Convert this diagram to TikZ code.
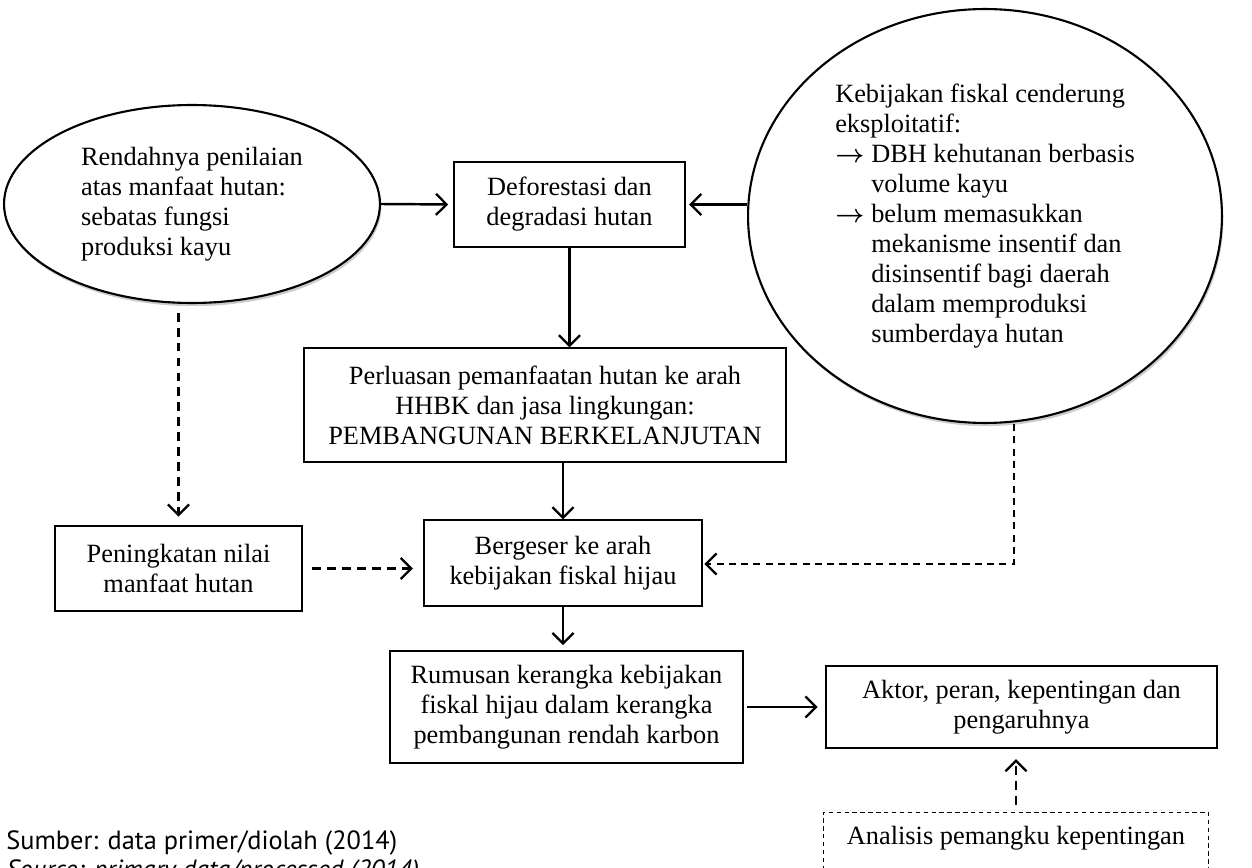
\documentclass[tikz,border=0pt]{standalone}
\usepackage{amsmath}
\usepackage{fontspec}
\setmainfont{Liberation Serif}
\newfontfamily\srcfont{PT Sans}
\usetikzlibrary{shapes.geometric,shadows,arrows.meta}

\begin{document}
\begin{tikzpicture}[x=0.02cm, y=-0.02cm,
        font=\fontsize{15}{17.1}\selectfont,
        box/.style={draw, line width=0.7pt, align=center, inner sep=0pt},
        blob/.style={draw, ellipse, line width=1.2pt, align=left, inner sep=0pt, fill=white,
            drop shadow={shadow xshift=0.8pt, shadow yshift=-1.8pt, fill=black!40}},
        arr/.style={-{Straight Barb[length=6pt, width=12pt, line width=1.3pt]}, line width=1.4pt},
        darr/.style={arr, dash pattern=on 5pt off 3.5pt},
        tarr/.style={arr, line width=1.1pt, dash pattern=on 4pt off 3pt}]
        \useasboundingbox (0,0) rectangle (1252,868);
        \clip (0,0) rectangle (1252,868);

        % top row
        \node[blob, minimum width=7.52cm, minimum height=3.96cm] (Rnd) at (192,204)
            {Rendahnya penilaian\\atas manfaat hutan:\\sebatas fungsi\\produksi kayu};
        \node[box, minimum width=4.62cm, minimum height=1.7cm] (Dfr) at (569.5,204.5)
            {Deforestasi dan\\degradasi hutan};
        \node[blob, minimum width=9.48cm, minimum height=8.28cm] (Kbj) at (985,216)
            {Kebijakan fiskal cenderung\\
             eksploitatif:\\
             \makebox[0.72cm][l]{$\boldsymbol{\rightarrow}$}DBH kehutanan berbasis\\
             \hspace*{0.72cm}volume kayu\\
             \makebox[0.72cm][l]{$\boldsymbol{\rightarrow}$}belum memasukkan\\
             \hspace*{0.72cm}mekanisme insentif dan\\
             \hspace*{0.72cm}disinsentif bagi daerah\\
             \hspace*{0.72cm}dalam memproduksi\\
             \hspace*{0.72cm}sumberdaya hutan};

        % middle
        \node[box, minimum width=9.64cm, minimum height=2.28cm] (Prl) at (545,405)
            {Perluasan pemanfaatan hutan ke arah\\HHBK dan jasa lingkungan:\\PEMBANGUNAN BERKELANJUTAN};
        \node[box, minimum width=5.56cm, minimum height=1.72cm] (Bgs) at (563,563)
            {Bergeser ke arah\\kebijakan fiskal hijau};
        \node[box, minimum width=4.94cm, minimum height=1.7cm] (Pnk) at (178.5,568.5)
            {Peningkatan nilai\\manfaat hutan};

        % bottom
        \node[box, minimum width=7.06cm, minimum height=2.24cm] (Rms) at (566.5,707)
            {Rumusan kerangka kebijakan\\fiskal hijau dalam kerangka\\pembangunan rendah karbon};
        \node[box, minimum width=7.82cm, minimum height=1.64cm] (Akt) at (1021.5,707)
            {Aktor, peran, kepentingan dan\\pengaruhnya};
        \node[box, line width=0.6pt, dash pattern=on 2.5pt off 2pt, minimum width=7.72cm,
            anchor=north, inner ysep=0.28cm] (Ana) at (1016,812)
            {Analisis pemangku kepentingan\\\mbox{}};

        \node[font=\srcfont\fontsize{15}{17}\selectfont, anchor=west, inner sep=0pt] (Smb) at (6,843)
            {Sumber: data primer/diolah (2014)};
        \node[font=\srcfont\itshape\fontsize{15}{17}\selectfont, anchor=north west, inner sep=0pt] (Src)
            at ([yshift=-2pt]Smb.south west) {Source: primary data/processed (2014)};

        % arrows
        \draw[arr, shorten >=3pt] (Rnd.east) -- (Dfr.west);
        \draw[arr, shorten >=2pt] (Kbj.west |- Dfr.east) -- (Dfr.east);
        \draw[arr] (Dfr.south) -- (Dfr.south |- Prl.north);
        \draw[arr] (Bgs.north |- Prl.south) -- (Bgs.north);
        \draw[arr, shorten >=3pt] (Bgs.south) -- (Bgs.south |- Rms.north);
        \draw[arr, shorten <=2pt, shorten >=4.5pt] (Rms.east) -- (Akt.west);
        \draw[darr, shorten <=5pt, shorten >=5pt] (Pnk.north |- Rnd.south) -- (Pnk.north);
        \draw[darr, shorten <=5.5pt, shorten >=6pt] (Pnk.east) -- (Bgs.west |- Pnk.east);
        \coordinate (Knk) at (1014,564);
        \draw[tarr, shorten >=1pt] (Kbj.south -| Knk) -- (Knk) -- (Bgs.east |- Knk);
        \draw[darr, shorten <=4pt, shorten >=6pt] (Ana.north) -- (Akt.south -| Ana.north);
\end{tikzpicture}
\end{document}
